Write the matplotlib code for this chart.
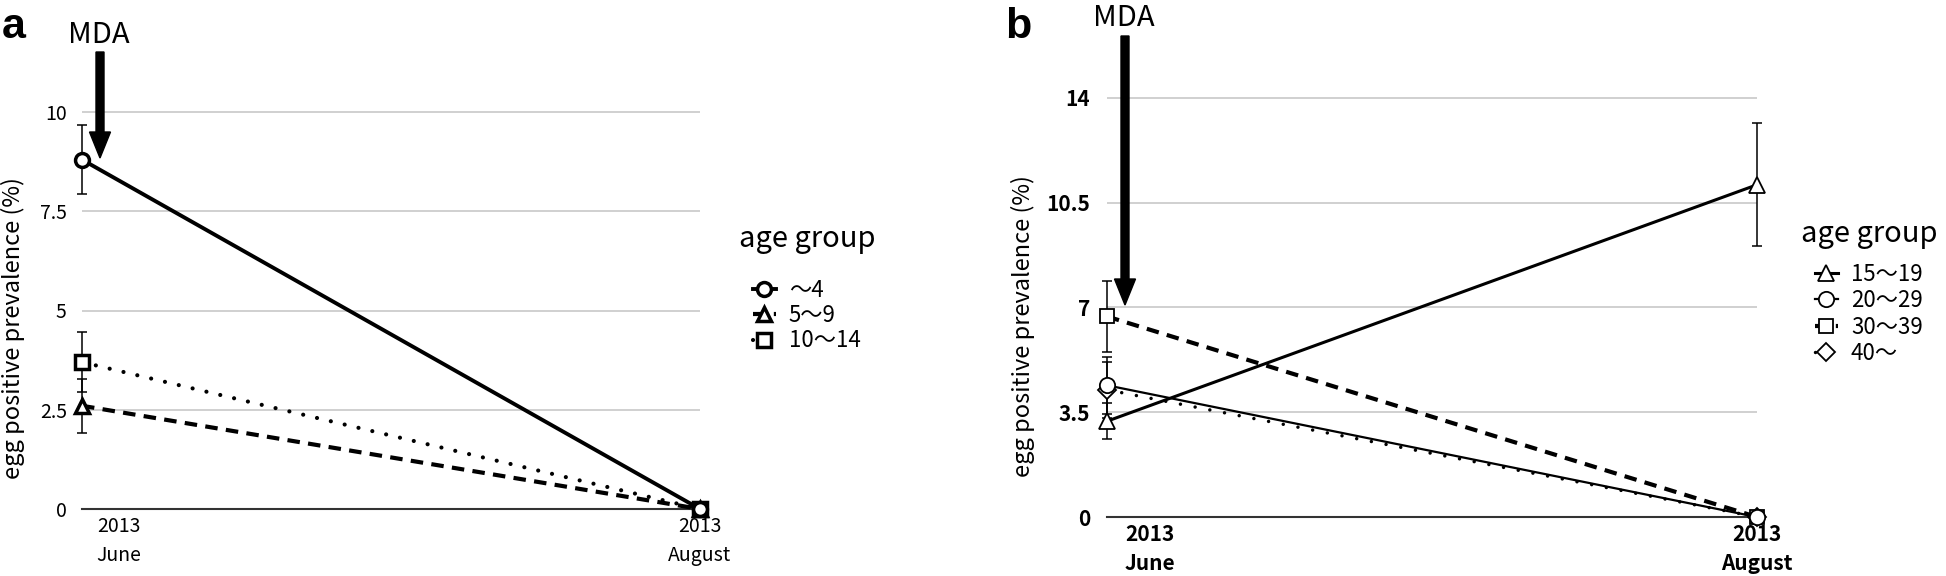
import matplotlib
matplotlib.use('Agg')
import matplotlib.pyplot as plt
from matplotlib.patches import FancyArrow
from matplotlib.transforms import ScaledTranslation

plt.rcParams['font.family'] = ['Noto Sans CJK JP', 'DejaVu Sans']

# x positions: June 2013 (MDA) and August 2013
months = ['2013\nJune', '2013\nAugust']
xpos = [0, 1]

# panel a: children
groups_a = ['〜4', '5〜9', '10〜14']
a_age4 = [8.8, 0.0]
a_age4_err = [0.87, 0.0]
a_age5_9 = [2.6, 0.0]
a_age5_9_err = [0.68, 0.0]
a_age10_14 = [3.7, 0.0]
a_age10_14_err = [0.75, 0.0]
yticks_a = [0, 2.5, 5, 7.5, 10]
yticklabels_a = ['0', '2.5', '5', '7.5', '10']

# panel b: adults
groups_b = ['15〜19', '20〜29', '30〜39', '40〜']
b_age15_19 = [3.2, 11.1]
b_age15_19_err = [0.6, 2.05]
b_age20_29 = [4.4, 0.0]
b_age20_29_err = [0.95, 0.0]
b_age30_39 = [6.7, 0.0]
b_age30_39_err = [1.2, 0.0]
b_age40 = [4.25, 0.0]
b_age40_err = [0.93, 0.0]
yticks_b = [0, 3.5, 7, 10.5, 14]
yticklabels_b = ['0', '3.5', '7', '10.5', '14']

W, H = 1946, 576
fig = plt.figure(figsize=(W / 100, H / 100), dpi=100)


def px_axes(left, right, bottom, top):
    return fig.add_axes([left / W, (H - bottom) / H, (right - left) / W, (bottom - top) / H])


def style_axes(ax, yticks, ylabels, ylim, tick_size, tick_weight, ypad, june_shift):
    ax.set_xlim(0, 1)
    ax.set_ylim(*ylim)
    ax.set_yticks(yticks, ylabels)
    ax.set_xticks(xpos, months)
    for s in ['top', 'right', 'left']:
        ax.spines[s].set_visible(False)
    ax.spines['bottom'].set_color('#333333')
    ax.spines['bottom'].set_linewidth(1.5)
    ax.yaxis.grid(True, color='#c8c8c8', lw=1.2)
    ax.set_axisbelow(True)
    ax.tick_params(axis='y', length=0, pad=ypad, labelsize=tick_size)
    ax.tick_params(axis='x', length=0, pad=5, labelsize=tick_size)
    for lab in ax.get_yticklabels() + ax.get_xticklabels():
        lab.set_fontweight(tick_weight)
    xl = ax.get_xticklabels()
    for lab in xl:
        lab.set_linespacing(1.5)
    xl[0].set_transform(xl[0].get_transform() + ScaledTranslation(june_shift, 0, fig.dpi_scale_trans))


def series(ax, y, err, label, marker, ms, mew, lw, dashes=None, round_cap=False, z=4):
    ax.errorbar(xpos, y, yerr=err, fmt='none', ecolor='black', elinewidth=1.1,
                capsize=3.5, capthick=1.1, clip_on=False, zorder=3)
    line, = ax.plot(xpos, y, color='black', lw=lw, marker=marker, ms=ms, mfc='white',
                    mec='black', mew=mew, clip_on=False, zorder=z, label=label)
    if dashes is not None:
        line.set_dashes(dashes)
    if round_cap:
        line.set_dash_capstyle('round')
    return line


# ---------------- panel a ----------------
ax_a = px_axes(82, 700, 509, 509 - 39.7 * 11)
style_axes(ax_a, yticks_a, yticklabels_a, (0, 11), 14, 'normal', 11, 0.37)
series(ax_a, a_age4, a_age4_err, groups_a[0], 'o', 10, 2.5, 2.8, z=6)
series(ax_a, a_age5_9, a_age5_9_err, groups_a[1], '^', 10.5, 2.5, 3.0, dashes=(3, 2), z=5)
series(ax_a, a_age10_14, a_age10_14_err, groups_a[2], 's', 9.5, 2.5, 3.0, dashes=(0.01, 3.4), round_cap=True)
ax_a.set_ylabel('egg positive prevalence (%)', fontsize=17)
ax_a.yaxis.set_label_coords((25 - 82) / 618, (509 - 328) / (39.7 * 11))
leg_a = ax_a.legend(title='age group', loc='upper center', bbox_to_anchor=(807 / W, (H - 224) / H),
                    bbox_transform=fig.transFigure, frameon=False, borderpad=0, borderaxespad=0,
                    fontsize=16, title_fontsize=21, handlelength=1.0, handletextpad=0.6,
                    labelspacing=0.1)
leg_a._legend_box.sep = 18

# ---------------- panel b ----------------
ax_b = px_axes(1107, 1757, 517, 517 - 29.93 * 15)
style_axes(ax_b, yticks_b, yticklabels_b, (0, 15), 15, 'bold', 12, 0.43)
series(ax_b, b_age15_19, b_age15_19_err, groups_b[0], '^', 12, 1.3, 2.2, z=5)
series(ax_b, b_age20_29, b_age20_29_err, groups_b[1], 'o', 11, 1.3, 1.6, z=6)
series(ax_b, b_age30_39, b_age30_39_err, groups_b[2], 's', 10, 1.3, 3.0, dashes=(3, 2), z=4)
series(ax_b, b_age40, b_age40_err, groups_b[3], 'D', 9.5, 1.3, 2.5, dashes=(0.01, 4.3), round_cap=True, z=4)
ax_b.set_ylabel('egg positive prevalence (%)', fontsize=17)
ax_b.yaxis.set_label_coords((1035 - 1107) / 650, (517 - 326) / (29.93 * 15))
leg_b = ax_b.legend(title='age group', loc='upper center', bbox_to_anchor=(1869 / W, (H - 219) / H),
                    bbox_transform=fig.transFigure, frameon=False, borderpad=0, borderaxespad=0,
                    fontsize=16, title_fontsize=21, handlelength=1.0, handletextpad=0.6,
                    labelspacing=0.15)
leg_b._legend_box.sep = 10

# MDA arrows and panel letters
for x, y0, y1, ty in [(100, 52, 158, 43), (1125, 36, 305, 26)]:
    fig.add_artist(FancyArrow(x / 100, (H - y0) / 100, 0, -(y1 - y0) / 100, width=0.08,
                              head_width=0.21, head_length=0.26, length_includes_head=True,
                              color='black', transform=fig.dpi_scale_trans))
    fig.text((x - 1) / W, (H - ty) / H, 'MDA', fontsize=21, ha='center', va='baseline')

fig.text(2 / W, (H - 38) / H, 'a', fontsize=31, fontweight='bold', family='Liberation Sans', va='baseline')
fig.text(1005 / W, (H - 38) / H, 'b', fontsize=31, fontweight='bold', family='Liberation Sans', va='baseline')

fig.savefig('out.png', dpi=100)
